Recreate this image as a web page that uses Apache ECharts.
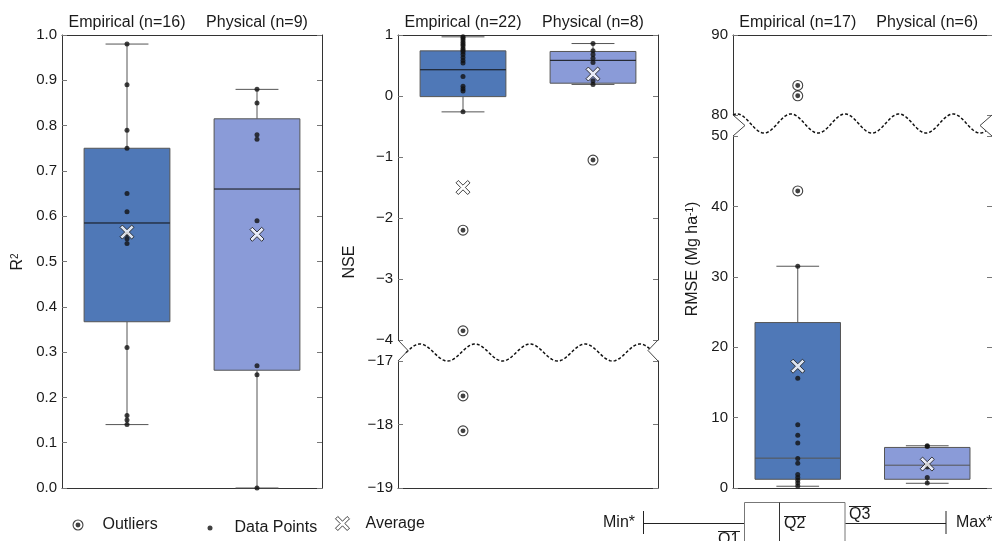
<!DOCTYPE html>
<html><head><meta charset="utf-8">
<script src="https://cdn.jsdelivr.net/npm/echarts@6/dist/echarts.min.js"></script>
<style>html,body{margin:0;padding:0;background:#fff}#c{width:992px;height:541px}</style>
</head><body><div id="c"></div>
<script>
// ---------------- data ----------------
const r2Categories = ['Empirical (n=16)', 'Physical (n=9)'];
const r2Box = [[0.14, 0.367, 0.585, 0.75, 0.98], [0.0, 0.26, 0.66, 0.815, 0.88]]; // min,Q1,median,Q3,max
const r2EmpPoints = [0.98, 0.89, 0.79, 0.75, 0.65, 0.61, 0.56, 0.55, 0.54, 0.31, 0.16, 0.15, 0.14];
const r2PhyPoints = [0.88, 0.85, 0.78, 0.77, 0.59, 0.27, 0.25, 0.0];
const r2EmpOutliers = [];
const r2PhyOutliers = [];
const r2Mean = [0.565, 0.56];
const r2Axis = [[0, 1, 0.1]];

const nseCategories = ['Empirical (n=22)', 'Physical (n=8)'];
const nseBox = [[-0.26, -0.01, 0.43, 0.74, 0.97], [0.19, 0.21, 0.585, 0.73, 0.86]];
const nseEmpPoints = [0.97, 0.95, 0.92, 0.88, 0.85, 0.82, 0.78, 0.75, 0.72, 0.68, 0.63, 0.58, 0.54, 0.32, 0.16, 0.12, 0.08, -0.26];
const nsePhyPoints = [0.86, 0.74, 0.68, 0.62, 0.55, 0.25, 0.19];
const nseEmpOutliers = [-2.2, -3.85, -17.55, -18.1];
const nsePhyOutliers = [-1.05];
const nseMean = [-1.5, 0.36];
const nseAxis = [[-4, 1, 1], [-19, -17, 1]];

const rmseCategories = ['Empirical (n=17)', 'Physical (n=6)'];
const rmseBox = [[0.25, 1.24, 4.24, 23.5, 31.5], [0.67, 1.24, 3.24, 5.76, 6.0]];
const rmseEmpPoints = [31.5, 15.6, 9.0, 7.5, 6.4, 4.2, 3.5, 1.9, 1.5, 1.1, 0.7, 0.3];
const rmsePhyPoints = [6.0, 5.9, 3.3, 3.0, 1.5, 0.7];
const rmseEmpOutliers = [42.2, 82.4, 83.7];
const rmsePhyOutliers = [];
const rmseMean = [17.3, 3.4];
const rmseAxis = [[80, 90, 10], [0, 50, 10]];

// ---------------- styles ----------------
const FONT = '"Liberation Sans", Arial, Helvetica, sans-serif';
const TXT = '#1a1a1a';
const FRAME = '#333';
const BOX_COLORS = ['#4f78b7', '#8a9bd8'];
const RING = 'path://M10,0 A10,10 0 1,1 10,20 A10,10 0 1,1 10,0 Z M10,2 A8,8 0 1,0 10,18 A8,8 0 1,0 10,2 Z M10,5.5 A4.5,4.5 0 1,1 10,14.5 A4.5,4.5 0 1,1 10,5.5 Z';
const XMARK = 'path://M0,2 L2,0 L6,4 L10,0 L12,2 L8,6 L12,10 L10,12 L6,8 L2,12 L0,10 L4,6 Z';

const grids = [], xAxes = [], yAxes = [], series = [];

function catAxis(gi, cats, pos, showLine, showLabel) {
  return {
    gridIndex: gi, type: 'category', data: cats, position: pos, boundaryGap: true,
    axisLine: {show: showLine, onZero: false, lineStyle: {color: FRAME, width: 1}},
    axisTick: {show: false},
    axisLabel: {show: showLabel, interval: 0, fontSize: 16, color: TXT, margin: 4, fontFamily: FONT},
    splitLine: {show: false}
  };
}
function valAxis(gi, ax, pos, showLabel, fmt) {
  return {
    gridIndex: gi, type: 'value', position: pos, min: ax[0], max: ax[1], interval: ax[2],
    axisLine: {show: true, onZero: false, lineStyle: {color: FRAME, width: 1}},
    axisTick: {show: true, inside: true, length: 5, lineStyle: {color: '#777'}},
    axisLabel: {show: showLabel, fontSize: 15, color: TXT, margin: 5, fontFamily: FONT, formatter: fmt,
      showMinLabel: true, showMaxLabel: true},
    splitLine: {show: false}
  };
}

function boxRender(medianColor) {
  return function (params, api) {
    const i = api.value(0);
    const ys = [1, 2, 3, 4, 5].map(d => api.coord([i, api.value(d)])[1]);
    const cx = api.coord([i, api.value(3)])[0];
    const band = api.size([1, 0])[0];
    const half = band * 0.33, cap = band * 0.165;
    const ws = {stroke: '#555', lineWidth: 1};
    return {type: 'group', children: [
      {type: 'line', shape: {x1: cx, y1: ys[1], x2: cx, y2: ys[0]}, style: ws},
      {type: 'line', shape: {x1: cx, y1: ys[3], x2: cx, y2: ys[4]}, style: ws},
      {type: 'line', shape: {x1: cx - cap, y1: ys[0], x2: cx + cap, y2: ys[0]}, style: ws},
      {type: 'line', shape: {x1: cx - cap, y1: ys[4], x2: cx + cap, y2: ys[4]}, style: ws},
      {type: 'rect', shape: {x: cx - half, y: ys[3], width: 2 * half, height: ys[1] - ys[3]},
        style: {fill: BOX_COLORS[i], stroke: '#555', lineWidth: 1}},
      {type: 'line', shape: {x1: cx - half, y1: ys[2], x2: cx + half, y2: ys[2]}, style: {stroke: medianColor, lineWidth: 1}}
    ]};
  };
}

function breakRender(cfg) {
  return function (params, api) {
    const cs = params.coordSys;
    const x0 = cs.x, x1 = cs.x + cs.width, yb = cs.y + cs.height;
    const pts = [];
    for (let x = x0 + cfg.start; x <= x1 - cfg.end; x += 1) {
      pts.push([x, yb + cfg.center - cfg.amp * Math.cos(2 * Math.PI * (x - x0 - cfg.phase) / cfg.period)]);
    }
    const ns = {stroke: '#444', lineWidth: 1, fill: null};
    return {type: 'group', children: [
      {type: 'polyline', shape: {points: pts}, style: {stroke: '#111', lineWidth: 1.5, lineDash: [3, 2], fill: null}},
      {type: 'polyline', shape: {points: [[x0, yb], [x0 + cfg.notch, yb + cfg.gap / 2], [x0, yb + cfg.gap]]}, style: ns},
      {type: 'polyline', shape: {points: [[x1, yb], [x1 - cfg.notch, yb + cfg.gap / 2], [x1, yb + cfg.gap]]}, style: ns}
    ]};
  };
}

function buildPanel(p) {
  const segs = p.axes.map((ax, k) => {
    const gi = grids.length;
    grids.push({left: p.left, width: p.width, top: p.tops[k], height: p.heights[k]});
    const first = k === 0, last = k === p.axes.length - 1;
    const xi = xAxes.length;
    xAxes.push(catAxis(gi, p.categories, 'top', first, first));
    xAxes.push(catAxis(gi, p.categories, 'bottom', last, false));
    const yi = yAxes.length;
    yAxes.push(valAxis(gi, ax, 'left', true, p.fmt));
    yAxes.push(valAxis(gi, ax, 'right', false, p.fmt));
    return {xi, yi, ax};
  });
  const segOf = v => segs.findIndex(s => v >= s.ax[0] - 1e-9 && v <= s.ax[1] + 1e-9);
  segs.forEach((s, k) => {
    const common = {xAxisIndex: s.xi, yAxisIndex: s.yi};
    const boxes = p.box.map((b, i) => [i].concat(b)).filter(r => segOf(r[3]) === k);
    if (boxes.length) series.push(Object.assign({
      type: 'custom', name: 'box', z: 2, silent: true, clip: false,
      renderItem: boxRender(p.medianColor), encode: {x: 0, y: [1, 2, 3, 4, 5]}, data: boxes}, common));
    const pick = arrs => arrs.flatMap((arr, i) => arr.map(v => [i, v])).filter(d => segOf(d[1]) === k);
    const pts = pick(p.points), outs = pick(p.outliers), means = pick(p.mean.map(m => [m]));
    series.push(Object.assign({type: 'scatter', name: 'Data Points', symbol: 'circle', symbolSize: 5, z: 3, clip: false,
      itemStyle: {color: '#111'}, data: pts}, common));
    series.push(Object.assign({type: 'scatter', name: 'Outliers', symbol: RING, symbolSize: 11, z: 3, clip: false,
      itemStyle: {color: '#111'}, data: outs}, common));
    series.push(Object.assign({type: 'scatter', name: 'Average', symbol: XMARK, symbolSize: 14, z: 4, clip: false,
      itemStyle: {color: '#fff', borderColor: '#111', borderWidth: 1}, data: means}, common));
    if (k === 0 && p.brk) series.push(Object.assign({type: 'custom', name: 'break', z: 5, silent: true, clip: false,
      renderItem: breakRender(p.brk), data: [[0, s.ax[0]]]}, common));
  });
}

const minusFmt = v => (v < 0 ? '\u2212' + Math.abs(v) : String(v));

buildPanel({left: 62, width: 260, tops: [35], heights: [453], axes: r2Axis, categories: r2Categories,
  box: r2Box, points: [r2EmpPoints, r2PhyPoints], outliers: [r2EmpOutliers, r2PhyOutliers], mean: r2Mean,
  fmt: v => v.toFixed(1), medianColor: '#111'});
buildPanel({left: 398, width: 260, tops: [35, 361], heights: [305, 127], axes: nseAxis, categories: nseCategories,
  box: nseBox, points: [nseEmpPoints, nsePhyPoints], outliers: [nseEmpOutliers, nsePhyOutliers], mean: nseMean,
  fmt: minusFmt, medianColor: '#111',
  brk: {gap: 21, center: 12.5, amp: 8.5, period: 55, phase: 22, notch: 10, start: 8, end: 8}});
buildPanel({left: 733, width: 260, tops: [35, 136], heights: [80, 352], axes: rmseAxis, categories: rmseCategories,
  box: rmseBox, points: [rmseEmpPoints, rmsePhyPoints], outliers: [rmseEmpOutliers, rmsePhyOutliers], mean: rmseMean,
  fmt: null, medianColor: '#555',
  brk: {gap: 21, center: 8.5, amp: 9.5, period: 54, phase: 4, notch: 12, start: 0, end: 6}});

// ---------------- decorations ----------------
function vtext(x, y, rich) {
  return {type: 'text', x: x, y: y, rotation: Math.PI / 2, style: {
    text: rich, align: 'center', verticalAlign: 'middle',
    rich: {a: {fontSize: 16, fontFamily: FONT, fill: TXT}, s: {fontSize: 10, fontFamily: FONT, fill: TXT, verticalAlign: 'top'}}
  }};
}
function t(x, y, text, size) {
  return {type: 'text', x: x, y: y, style: {text: text, fontSize: size || 15, fontFamily: FONT, fill: TXT, align: 'left', verticalAlign: 'middle'}};
}
function ln(x1, y1, x2, y2, c) {
  return {type: 'line', shape: {x1, y1, x2, y2}, style: {stroke: c || '#222', lineWidth: 1}};
}
const graphic = [
  vtext(18, 262, '{a|R}{s|2}'),
  vtext(350, 262, '{a|NSE}'),
  vtext(693, 259, '{a|RMSE (Mg ha}{s|-1}{a|)}'),
  // key diagram
  t(603, 523, 'Min*', 16),
  ln(643.5, 511, 643.5, 534),
  ln(643.5, 523.5, 744, 523.5),
  {type: 'rect', shape: {x: 744.5, y: 502.5, width: 100.5, height: 60}, style: {fill: '#fff', stroke: '#777', lineWidth: 1}},
  ln(779.5, 502.5, 779.5, 541, '#333'),
  ln(845.5, 523.5, 946, 523.5),
  ln(946, 511, 946, 534),
  t(956, 523, 'Max*', 16),
  t(784, 524, 'Q2', 16), ln(784, 516.5, 806, 516.5),
  t(849, 515, 'Q3', 16), ln(849, 506.5, 871, 506.5),
  t(718, 540, 'Q1', 16), ln(718, 531.5, 740, 531.5)
];

const legendBase = {orient: 'horizontal', padding: 0, selectedMode: false,
  textStyle: {fontSize: 16, fontFamily: FONT, color: TXT}};
const legend = [
  Object.assign({}, legendBase, {data: ['Outliers'], left: 72.5, top: 517, itemWidth: 11, itemHeight: 11,
    textStyle: Object.assign({}, legendBase.textStyle, {padding: [0, 0, 0, 14]})}),
  Object.assign({}, legendBase, {data: ['Data Points'], left: 207.5, top: 520, itemWidth: 5, itemHeight: 5,
    textStyle: Object.assign({}, legendBase.textStyle, {padding: [0, 0, 0, 17]})}),
  Object.assign({}, legendBase, {data: [{name: 'Average', itemStyle: {color: '#fff', borderColor: '#111', borderWidth: 1}}],
    left: 335, top: 515.5, itemWidth: 14, itemHeight: 14,
    textStyle: Object.assign({}, legendBase.textStyle, {padding: [0, 0, 0, 11]})})
];

const chart = echarts.init(document.getElementById('c'), null, {renderer: 'canvas'});
chart.setOption({
  animation: false,
  backgroundColor: '#fff',
  textStyle: {fontFamily: FONT},
  grid: grids, xAxis: xAxes, yAxis: yAxes, series: series,
  legend: legend, graphic: graphic
});
</script></body></html>
